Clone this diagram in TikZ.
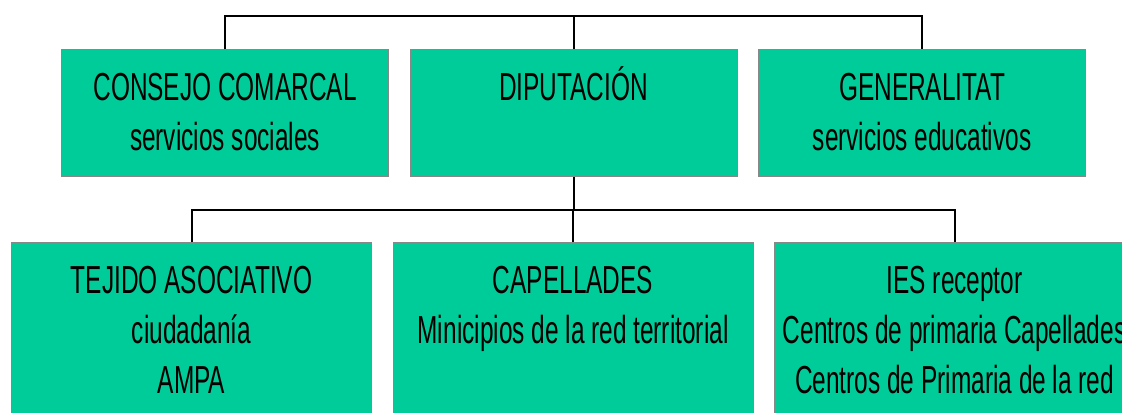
\documentclass[tikz,border=0pt]{standalone}
\usepackage{fontspec}
\setmainfont{Liberation Sans}[FakeStretch=0.625]
\usepackage{tikz}
\usetikzlibrary{positioning}

\definecolor{verde}{RGB}{0,204,153}
\definecolor{rand}{RGB}{136,136,136}

\tikzset{
	caja/.style={draw=rand, line width=0.8pt, fill=verde, inner sep=0pt, align=flush center,
		font=\fontsize{27.8}{35.6}\selectfont, text height=1.275cm},
	arriba/.style={caja, text width=8.175cm, text depth=1.9cm},
	abajo/.style={caja, text width=9cm, text depth=3.725cm},
	linea/.style={draw=black, line width=1.4pt}
}

\begin{document}
\begin{tikzpicture}
		\useasboundingbox (0,0) rectangle (28.05,-10.3);

		\node[arriba, anchor=north west] (consejo) at (1.525,-1.225) {CONSEJO COMARCAL\\servicios sociales};
		\node[arriba] (diputacion) [right = 0.51cm of consejo] {DIPUTACIÓN};
		\node[arriba] (generalitat) [right = 0.51cm of diputacion] {GENERALITAT\\servicios educativos};

		\node[abajo, anchor=north west] (tejido) at (0.275,-6.05) {TEJIDO ASOCIATIVO\\ciudadanía\\AMPA};
		\node[abajo] (capellades) [right = 0.51cm of tejido] {CAPELLADES\\Minicipios de la red territorial};
		\node[abajo] (ies) [right = 0.51cm of capellades] {IES receptor\\Centros de primaria Capellades\\Centros de Primaria de la red};

		\coordinate[above = 0.825cm of diputacion.north] (busarriba);
		\coordinate[below = 0.825cm of diputacion.south] (busabajo);

		\draw[linea] (consejo.north) |- (busarriba) -| (generalitat.north);
		\draw[linea] (diputacion.north) -- (busarriba);
		\draw[linea] (diputacion.south) -- (busabajo);
		\draw[linea] (tejido.north) |- (busabajo) -| (ies.north);
		\draw[linea] (capellades.north) -- (capellades.north |- busabajo);
	\end{tikzpicture}
\end{document}
